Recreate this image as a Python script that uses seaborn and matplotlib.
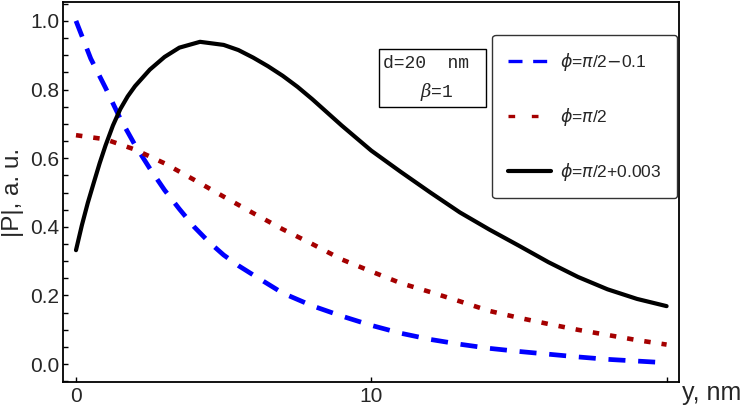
import matplotlib
matplotlib.use("Agg")
import matplotlib.pyplot as plt
from matplotlib.lines import Line2D
from matplotlib.patches import Rectangle
from matplotlib.ticker import MultipleLocator, FormatStrFormatter
import pandas as pd
import seaborn as sns

# values
y_blue = [0, 0.5, 1, 1.5, 2, 2.5, 3, 3.5, 4, 4.5, 5, 5.5, 6, 7, 8, 9, 10, 11, 12, 13, 14, 15,
          16, 17, 18, 19, 20]
p_blue = [1.0, 0.89, 0.805, 0.715, 0.638, 0.57, 0.507, 0.452, 0.40, 0.356, 0.318, 0.287, 0.26,
          0.207, 0.170, 0.14, 0.113, 0.09, 0.072, 0.058, 0.046, 0.037, 0.029, 0.021, 0.014,
          0.009, 0.004]

y_red = [0, 1, 2, 3, 4, 5, 6, 7, 8, 9, 10, 11, 12, 13, 14, 15, 16, 17, 18, 19, 20]
p_red = [0.667, 0.655, 0.625, 0.585, 0.537, 0.488, 0.44, 0.393, 0.35, 0.305, 0.27, 0.236, 0.21,
         0.183, 0.155, 0.135, 0.117, 0.10, 0.085, 0.07, 0.057]

y_black = [0, 0.2, 0.4, 0.6, 0.8, 1.0, 1.25, 1.5, 1.75, 2.0, 2.5, 3.0, 3.5, 4.2, 5, 5.5, 6, 6.5,
           7, 7.5, 8, 9, 10, 11, 12, 13, 14, 15, 16, 17, 18, 19, 20]
p_black = [0.332, 0.405, 0.47, 0.528, 0.585, 0.637, 0.695, 0.743, 0.78, 0.81, 0.858, 0.895,
           0.922, 0.939, 0.93, 0.915, 0.893, 0.868, 0.84, 0.808, 0.772, 0.695, 0.622, 0.56,
           0.50, 0.442, 0.392, 0.345, 0.297, 0.254, 0.218, 0.19, 0.169]

labels = [r"$\phi$=$\pi$/2$-$0.1", r"$\phi$=$\pi$/2", r"$\phi$=$\pi$/2+0.003"]
colors = ["#0000FF", "#A50000", "#000000"]
x_ticks = [0, 10, 20]
x_ticklabels = ["0", "10", ""]

sns.set_style("ticks")
plt.rcParams["font.family"] = ["Liberation Sans", "DejaVu Sans"]
plt.rcParams["mathtext.fontset"] = "dejavusans"

fig = plt.figure(figsize=(7.47, 4.07), dpi=100)
ax = fig.add_axes([63 / 747, 25 / 407, 616 / 747, 380 / 407])

blue = pd.DataFrame({"y": y_blue, "P": p_blue})
red = pd.DataFrame({"y": y_red, "P": p_red})
black = pd.DataFrame({"y": y_black, "P": p_black})

sns.lineplot(data=blue, x="y", y="P", ax=ax, color=colors[0], lw=3.4,
             linestyle=(0, (3.6, 2.7)))
sns.lineplot(data=red, x="y", y="P", ax=ax, color=colors[1], lw=3.3,
             linestyle=(0, (1.4, 2.4)))
sns.lineplot(data=black, x="y", y="P", ax=ax, color=colors[2], lw=3.0)

ax.set_xlim(-0.44, 20.42)
ax.set_ylim(-0.052, 1.055)
ax.set_xticks(x_ticks)
ax.set_xticklabels(x_ticklabels)
ax.yaxis.set_major_locator(MultipleLocator(0.2))
ax.yaxis.set_minor_locator(MultipleLocator(0.05))
ax.yaxis.set_major_formatter(FormatStrFormatter("%.1f"))
ax.tick_params(axis="both", which="both", direction="in", length=3.5, width=1,
               labelsize=15, color="black")
ax.tick_params(axis="x", pad=3.5)
ax.tick_params(axis="y", pad=2.5)
for s in ax.spines.values():
    s.set_color("black")
    s.set_linewidth(1.3)

ax.set_xlabel("")
ax.set_ylabel("|P|, a. u.", fontsize=17.5)
ax.yaxis.set_label_coords(-0.063, 0.5)
fig.text(682 / 747, 7 / 407, "y, nm", fontsize=18, ha="left", va="baseline")

handles = [
    Line2D([], [], color=colors[0], lw=2.4, linestyle=(0, (4.2, 3.2))),
    Line2D([], [], color=colors[1], lw=2.4, linestyle=(0, (2.0, 5.0))),
    Line2D([], [], color=colors[2], lw=3.0),
]
leg = ax.legend(handles, labels, loc="upper right", bbox_to_anchor=(677 / 747, 1 - 35 / 407),
                bbox_transform=fig.transFigure, borderaxespad=0, fontsize=12.5,
                labelspacing=1.9, handlelength=2.5, handletextpad=0.5,
                borderpad=0.9, fancybox=True, framealpha=1, edgecolor="#333333")
leg.get_frame().set_linewidth(1.0)

# parameter box
fig.patches.append(Rectangle((379 / 747, 1 - 107 / 407), 107 / 747, 58 / 407,
                             transform=fig.transFigure, fill=False, edgecolor="black", lw=1.0))
fig.text(383 / 747, 1 - 64 / 407, "d=20  nm", family="Liberation Mono", fontsize=13,
         va="center", ha="left")
fig.text(420 / 747, 1 - 92 / 407, r"$\beta$=1", family="Liberation Mono", fontsize=13,
         va="center", ha="left", math_fontfamily="dejavuserif")

fig.savefig("out.png", dpi=100)
